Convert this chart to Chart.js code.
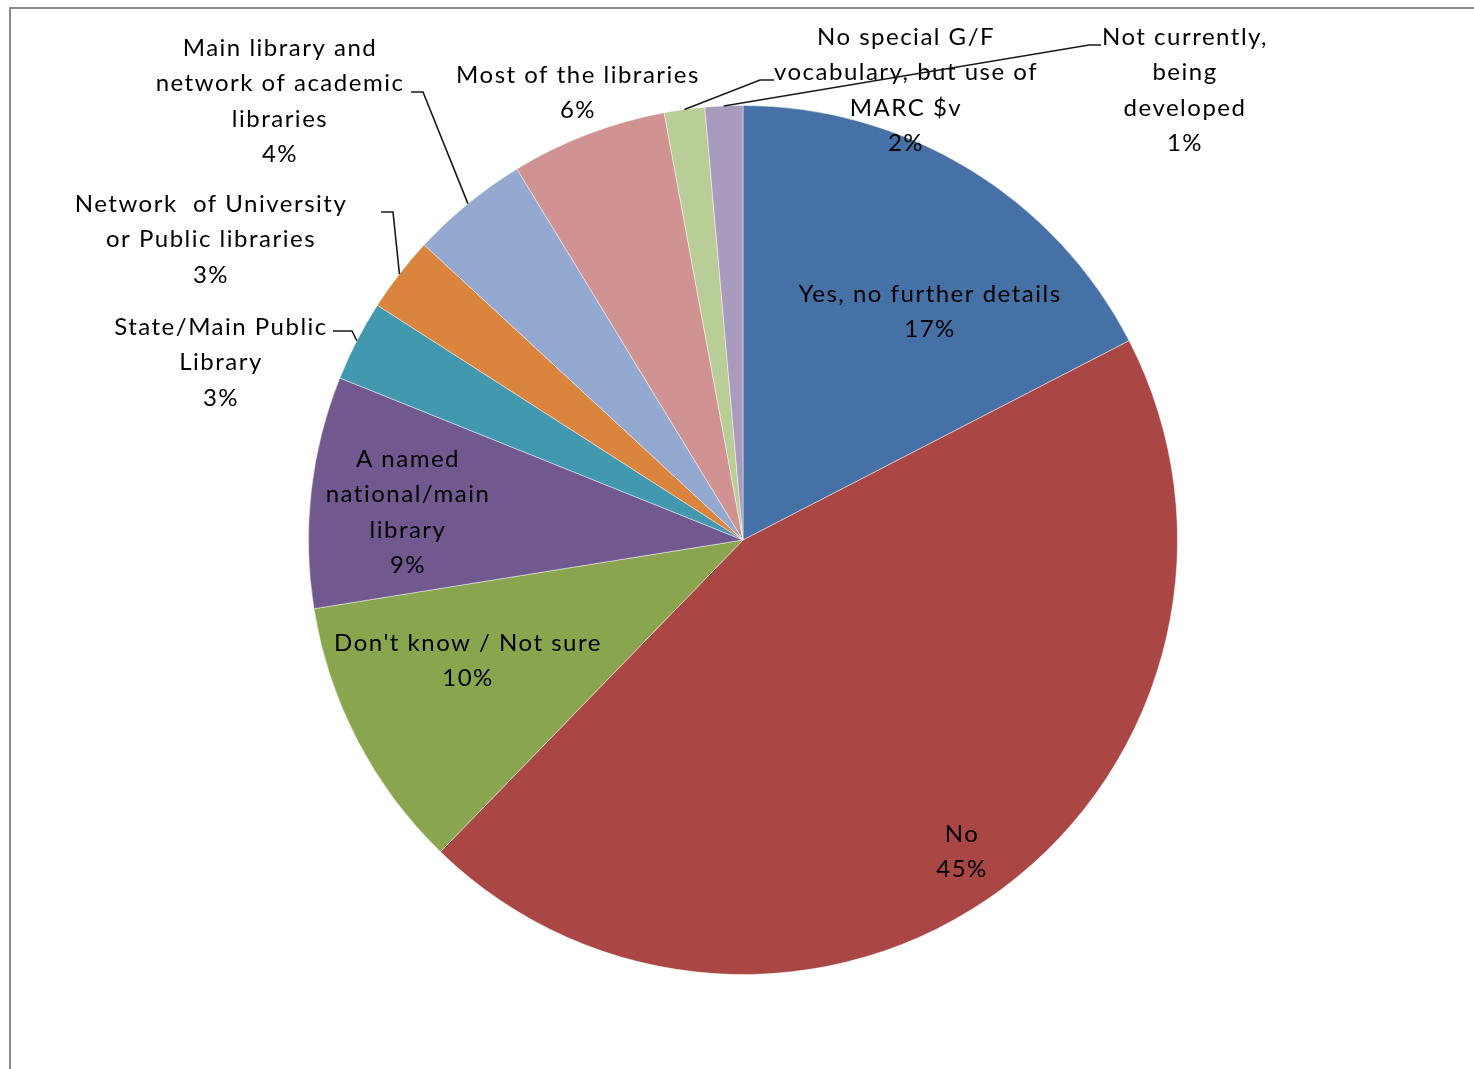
<!DOCTYPE html>
<html>
<head>
<meta charset="utf-8">
<script src="https://cdn.jsdelivr.net/npm/chart.js@4.4.0/dist/chart.umd.min.js"></script>
<style>
  html, body { margin: 0; padding: 0; background: #fff; overflow: hidden; }
  #frame { position: absolute; left: 9px; top: 7px; width: 1500px; height: 1100px;
           border-top: 2px solid #8c8c8c; border-left: 2px solid #8c8c8c; }
  #wrap { position: absolute; left: 0; top: 0; width: 1474px; height: 1069px; }
</style>
</head>
<body>
<div id="frame"></div>
<div id="wrap"><canvas id="pieChart"></canvas></div>
<script>
// categories (one entry per line of the label as printed)
const categories = [
  ['Yes, no further details'],
  ['No'],
  ["Don't know / Not sure"],
  ['A named', 'national/main', 'library'],
  ['State/Main Public', 'Library'],
  ['Network  of University', 'or Public libraries'],
  ['Main library and', 'network of academic', 'libraries'],
  ['Most of the libraries'],
  ['No special G/F', 'vocabulary, but use of', 'MARC $v'],
  ['Not currently,', 'being', 'developed']
];
const shares = [17.4, 44.8, 10.2, 8.6, 3.0, 2.8, 4.4, 5.8, 1.5, 1.4];
const percentLabels = ['17%', '45%', '10%', '9%', '3%', '3%', '4%', '6%', '2%', '1%'];

const sliceColors = ['#4571a6', '#aa4643', '#89a54e', '#71588f', '#4198af',
                     '#db843d', '#93a9cf', '#d19392', '#b9cd96', '#a99bbd'];

// label placement, relative to the pie centre (first line centre)
const labelOffsets = [[187, -246], [219, 294], [-275, 103], [-335, -81], [-522, -213],
                      [-532, -336], [-463, -492], [-165, -465], [163, -503], [442, -503]];
// leader lines: [elbow, end] relative to the pie centre
const leaders = {
  4: [[-391, -209], [-410, -209]],
  5: [[-350, -328], [-362, -328]],
  6: [[-320, -448], [-332, -448]],
  8: [[17, -460], [31, -460]],
  9: [[346, -495], [358, -495]]
};

const FONT = '24px Lato';
const LINE_H = 35.5;

const labelPlugin = {
  id: 'sliceLabels',
  afterDatasetsDraw(chart) {
    const ctx = chart.ctx;
    const arcs = chart.getDatasetMeta(0).data;
    ctx.save();
    arcs.forEach((arc, i) => {
      const cx = arc.x, cy = arc.y;
      const lead = leaders[i];
      if (lead) {
        const mid = (arc.startAngle + arc.endAngle) / 2;
        const r = arc.outerRadius;
        ctx.beginPath();
        ctx.moveTo(cx + Math.cos(mid) * r, cy + Math.sin(mid) * r);
        ctx.lineTo(cx + lead[0][0], cy + lead[0][1]);
        ctx.lineTo(cx + lead[1][0], cy + lead[1][1]);
        ctx.strokeStyle = '#1a1a1a';
        ctx.lineWidth = 1.6;
        ctx.stroke();
      }
      const lines = categories[i].concat([percentLabels[i]]);
      const [ox, oy] = labelOffsets[i];
      ctx.font = FONT;
      ctx.letterSpacing = '1.5px';
      ctx.fillStyle = '#000';
      ctx.textAlign = 'center';
      ctx.textBaseline = 'middle';
      lines.forEach((t, k) => {
        ctx.fillText(t, cx + ox, cy + oy + k * LINE_H);
      });
    });
    ctx.restore();
  }
};

new Chart(document.getElementById('pieChart'), {
  type: 'pie',
  data: {
    labels: categories.map(c => c.join(' ')),
    datasets: [{
      data: shares,
      backgroundColor: sliceColors,
      borderColor: 'rgba(255,255,255,0.45)',
      borderWidth: 1
    }]
  },
  options: {
    responsive: true,
    maintainAspectRatio: false,
    animation: false,
    layout: { padding: { left: 308, right: 296, top: 105, bottom: 94 } },
    plugins: {
      legend: { display: false },
      tooltip: { enabled: false }
    }
  },
  plugins: [labelPlugin]
});
</script>
</body>
</html>
